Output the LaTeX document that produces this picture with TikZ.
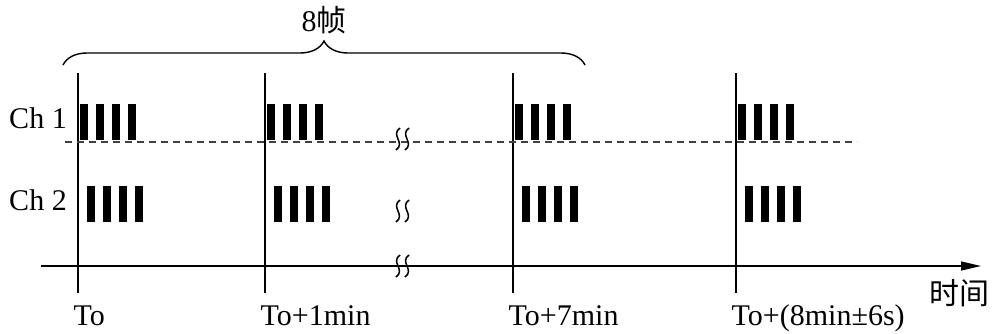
\documentclass[tikz,border=0pt]{standalone}
\usepackage{fontspec}
\setmainfont{Liberation Serif}
\newfontfamily\cjk{Noto Sans CJK SC}
\usetikzlibrary{arrows.meta,decorations.pathreplacing}
\tikzset{
  lbl/.style={font=\fontsize{15}{17}\selectfont, inner sep=0pt},
  dashline/.style={dashed, dash pattern=on 3.5pt off 2.5pt, draw=black!75},
  brk/.style={line width=0.75pt},
}
\begin{document}
\begin{tikzpicture}[x=0.5pt,y=-0.5pt,line width=0.7pt]
  \useasboundingbox (0,0) rectangle (994,333);
  % ticks with frame bursts of both channels
  \foreach \t/\n/\s in {78/t0/To,265/t1/To+1min,513/t7/To+7min,736/t8/{To+(8min±6s)}} {
    \coordinate (\n top) at (\t,73);
    \coordinate (\n bot) at (\t,293);
    \draw (\n top) -- (\n bot);
    \foreach \k in {0,...,3} {
      \fill (\t+2+16*\k,104) rectangle ++(8,36);
      \fill (\t+9+16*\k,186) rectangle ++(8,36);
    }
    \node[lbl,anchor=base west] (\n lab) at (\t-5,325) {\s};
  }
  \node[lbl] (ch1) at (38,118) {Ch 1};
  \node[lbl] (ch2) at (38,200) {Ch 2};
  \coordinate (dl) at (65,142);
  \coordinate (dr) at (857,142);
  \draw[dashline] (dl) -- (dr);
  \coordinate (ax0) at (41,266);
  \coordinate (ax1) at (981,266);
  \draw[-{Triangle[length=10pt,width=4.5pt]}] (ax0) -- (ax1);
  \node[lbl] (time) at (959,293) {\cjk 时间};
  % break marks
  \foreach \y in {139,211,266}
    \foreach \x in {398,407}
      \draw[brk] (\x+2,\y-11) .. controls (\x-8,\y-4) and (\x+8,\y+4) .. (\x-2,\y+11);
  \coordinate (br0) at (63,65);
  \coordinate (br1) at (585,65);
  \draw[decorate,decoration={brace,amplitude=12pt}] (br0) -- (br1);
  \node[lbl] (frames) at (324,20) {8{\cjk 帧}};
\end{tikzpicture}
\end{document}
